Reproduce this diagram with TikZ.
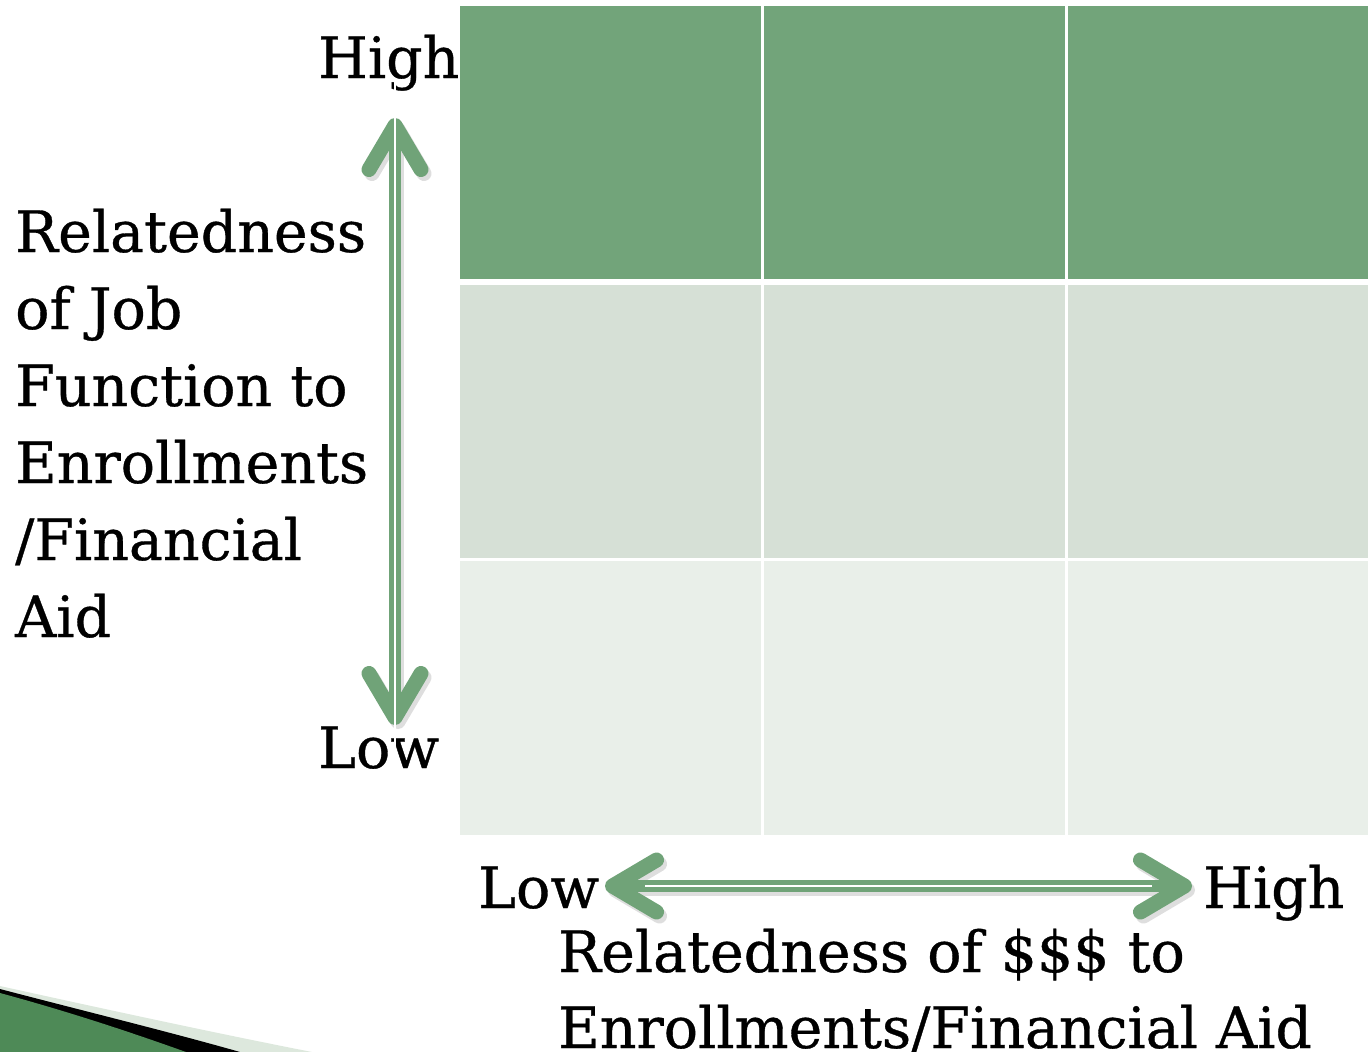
\documentclass[tikz,border=0pt]{standalone}
\usepackage{fontspec}
\setmainfont{DejaVu Serif}[FakeBold=0.6]
\usetikzlibrary{arrows.meta}
\definecolor{celldark}{RGB}{114,164,122}
\definecolor{cellmid}{RGB}{214,224,214}
\definecolor{celllight}{RGB}{233,239,233}
\definecolor{axgreen}{RGB}{112,163,120}
\definecolor{swgreen}{RGB}{78,138,87}
\definecolor{swlight}{RGB}{221,232,221}
\tikzset{
  lbl/.style={inner sep=0pt, anchor=base west, font=\fontsize{57}{77}\selectfont},
  axis/.style={draw=axgreen, line width=12pt,
    {Straight Barb[length=44pt, width=52pt, line width=15pt, round]}-{Straight Barb[length=44pt, width=52pt, line width=15pt, round]}},
  axisshadow/.style={axis, draw=black, opacity=0.13},
  axisline/.style={draw=white, line width=1.6pt}
}
\begin{document}
\begin{tikzpicture}[x=1pt, y=-1pt]
  \useasboundingbox (0,0) rectangle (1368,1052);
  \clip (0,0) rectangle (1368,1052);
  % grid
  \foreach \c in {0,1,2} {
    \fill[celldark]  (460+\c*304,6)   rectangle ++(303,273);
    \fill[cellmid]   (460+\c*304,285) rectangle ++(303,273);
    \fill[celllight] (460+\c*304,561) rectangle ++(303,274);
  }
  \draw[white, line width=3pt] (762,0) -- (762,840) (1066,0) -- (1066,840);
  \draw[white, line width=3pt] (455,282) -- (1368,282) (455,559) -- (1368,559);

  % labels
  \node[lbl] (vhigh) at (318,78) {High};
  \node[lbl] (vlow) at (318,768) {Low};
  \node[lbl] (hlow) at (478,908) {Low};
  \node[lbl] (hhigh) at (1203,908) {High};
  \foreach \t [count=\i] in {Relatedness, of Job, Function to, Enrollments, /Financial, Aid}
    \node[lbl] (vtitle\i) at (15,{252+77*(\i-1)}) {\t};
  \node[lbl] (htitle1) at (558,972) {Relatedness of \$\$\$ to};
  \node[lbl] (htitle2) at (558,1048) {Enrollments/Financial Aid};

  % axes
  \coordinate (vtop) at (395,118);
  \coordinate (vbot) at (395,725);
  \coordinate (hleft) at (605,886);
  \coordinate (hright) at (1192,886);
  \draw[axisshadow] ([shift={(3,4)}]vtop) -- ([shift={(3,4)}]vbot);
  \draw[axisshadow] ([shift={(3,4)}]hleft) -- ([shift={(3,4)}]hright);
  \draw[axis] (vtop) -- (vbot);
  \draw[axis] (hleft) -- (hright);
  \draw[axisline] ([yshift=40]vtop) -- ([yshift=-40]vbot);
  \draw[axisline] ([xshift=40]hleft) -- ([xshift=-40]hright);

  % corner swoosh
  \fill[swlight] (0,986) .. controls (100,1008) and (210,1032) .. (312,1052) -- (0,1052) -- cycle;
  \fill[black] (0,989) .. controls (80,1010) and (170,1032) .. (240,1052) -- (0,1052) -- cycle;
  \fill[swgreen] (0,993) .. controls (70,1012) and (130,1032) .. (186,1052) -- (0,1052) -- cycle;
\end{tikzpicture}
\end{document}
